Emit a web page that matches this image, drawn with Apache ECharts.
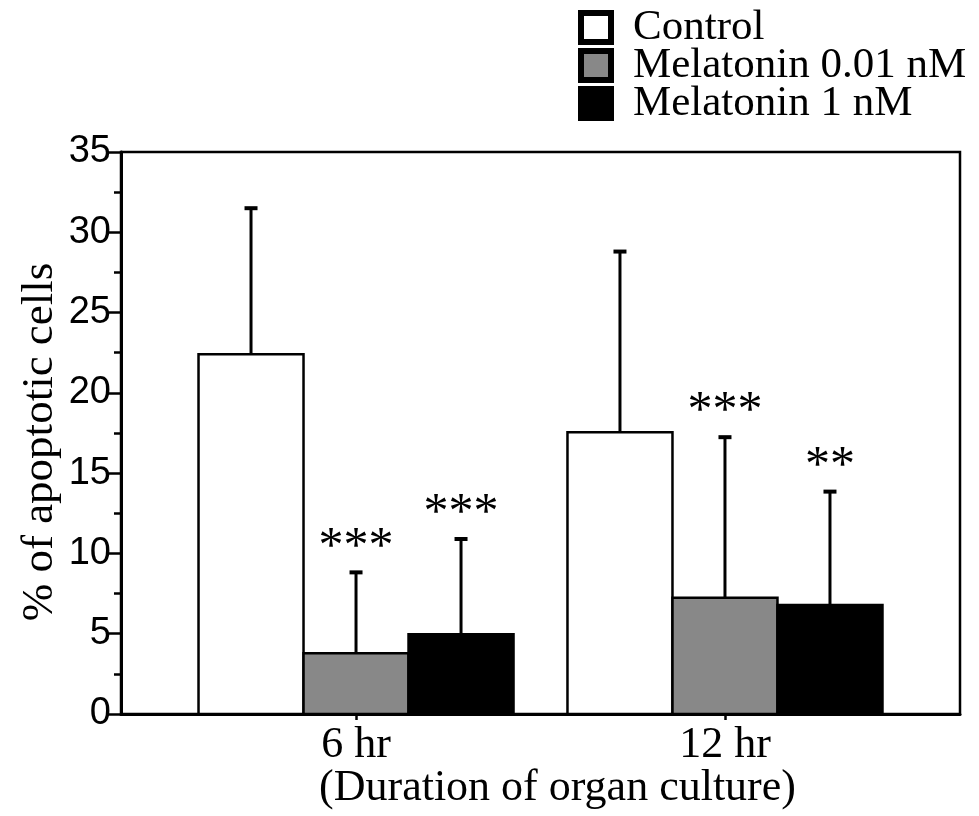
<!DOCTYPE html>
<html>
<head>
<meta charset="utf-8">
<script src="https://cdn.jsdelivr.net/npm/echarts@6/dist/echarts.min.js"></script>
<style>
  html, body { margin: 0; padding: 0; background: #fff; }
  #chart { width: 979px; height: 816px; }
</style>
</head>
<body>
<div id="chart"></div>
<script>
// data
const categories = ['6 hr', '12 hr'];
const seriesNames = ['Control', 'Melatonin 0.01 nM', 'Melatonin 1 nM'];
const controlMean = [22.4, 17.55];
const controlSD = [9.1, 11.25];
const mel001Mean = [3.78, 7.24];
const mel001SD = [5.04, 10.0];
const mel1Mean = [4.96, 6.79];
const mel1SD = [5.94, 7.06];
const marks = [['', ''], ['***', '***'], ['***', '**']];
const fills = ['#ffffff', '#888888', '#000000'];

const barW = 0.2846;               // bar width in x-axis units (one group step = 1)
const offsets = [-barW, 0, barW];  // group centred on middle bar

const chart = echarts.init(document.getElementById('chart'));

function renderItem(params, api) {
  const si = params.seriesIndex;
  const x = api.value(0) + offsets[si];
  const mean = api.value(1);
  const sd = api.value(2);
  const base = api.coord([x, 0]);
  const top = api.coord([x, mean]);
  const errTop = api.coord([x, mean + sd]);
  const w = api.size([barW, 0])[0];
  const mark = marks[si][params.dataIndex];
  return {
    type: 'group',
    children: [
      {
        type: 'rect',
        shape: { x: base[0] - w / 2, y: top[1], width: w, height: base[1] - top[1] },
        style: { fill: fills[si], stroke: '#000', lineWidth: 2.5 }
      },
      {
        type: 'line',
        shape: { x1: top[0], y1: top[1], x2: errTop[0], y2: errTop[1] },
        style: { stroke: '#000', lineWidth: 3 }
      },
      {
        type: 'line',
        shape: { x1: errTop[0] - 6.5, y1: errTop[1], x2: errTop[0] + 6.5, y2: errTop[1] },
        style: { stroke: '#000', lineWidth: 4 }
      },
      {
        type: 'text',
        x: errTop[0],
        y: errTop[1] - 25,
        style: {
          text: mark,
          fill: '#000',
          font: '50px "Liberation Serif", "Times New Roman", serif',
          align: 'center',
          verticalAlign: 'middle'
        }
      }
    ]
  };
}

function makeData(means, sds) {
  return means.map((m, i) => [i + 1, m, sds[i]]);
}

const allMeans = [controlMean, mel001Mean, mel1Mean];
const allSDs = [controlSD, mel001SD, mel1SD];

const option = {
  animation: false,
  backgroundColor: '#fff',
  grid: {
    left: 121, right: 19, top: 152, bottom: 102,
    outerBoundsMode: 'none',
    show: true, borderColor: '#000', borderWidth: 2.5
  },
  legend: {
    orient: 'vertical',
    left: 573,
    top: 1,
    itemWidth: 30,
    itemHeight: 29,
    itemGap: -5,
    icon: 'rect',
    textStyle: {
      fontFamily: '"Liberation Serif", "Times New Roman", serif',
      fontSize: 43,
      color: '#000',
      lineHeight: 36,
      padding: [0, 0, 0, 17]
    },
    data: seriesNames.map((n, i) => ({
      name: n,
      itemStyle: { color: fills[i], borderColor: '#000', borderWidth: 6 }
    }))
  },
  xAxis: {
    type: 'value',
    min: 0.363,
    max: 2.637,
    splitLine: { show: false },
    axisLine: { show: true, lineStyle: { color: '#000', width: 3 } },
    axisTick: { show: true, customValues: [1, 2], length: 6, lineStyle: { color: '#000', width: 2.5 } },
    axisLabel: {
      customValues: [1, 2],
      formatter: v => categories[Math.round(v) - 1] || '',
      color: '#000',
      fontFamily: '"Liberation Serif", "Times New Roman", serif',
      fontSize: 44,
      margin: 9
    },
    name: '(Duration of organ culture)',
    nameLocation: 'middle',
    nameGap: 52,
    nameMoveOverlap: false,
    nameTextStyle: {
      color: '#000',
      fontFamily: '"Liberation Serif", "Times New Roman", serif',
      fontSize: 44,
      padding: [0, 0, 0, 34]
    }
  },
  yAxis: {
    type: 'value',
    min: 0,
    max: 35,
    interval: 5,
    splitLine: { show: false },
    axisLine: { show: true, lineStyle: { color: '#000', width: 3 } },
    axisTick: { show: true, length: 13, lineStyle: { color: '#000', width: 2.5 } },
    minorTick: { show: true, splitNumber: 2, length: 7, lineStyle: { color: '#000', width: 2.5 } },
    axisLabel: {
      color: '#000',
      fontFamily: '"Liberation Sans", Arial, sans-serif',
      fontSize: 38,
      margin: 10
    },
    name: '% of apoptotic cells',
    nameLocation: 'middle',
    nameGap: 58,
    nameMoveOverlap: false,
    nameTextStyle: {
      color: '#000',
      fontFamily: '"Liberation Serif", "Times New Roman", serif',
      fontSize: 45,
      padding: [0, 18, 0, 0]
    }
  },
  series: seriesNames.map((n, i) => ({
    name: n,
    type: 'custom',
    renderItem: renderItem,
    itemStyle: { color: fills[i], borderColor: '#000' },
    encode: { x: 0, y: [1, 2] },
    data: makeData(allMeans[i], allSDs[i]),
    z: 2
  }))
};

chart.setOption(option);
</script>
</body>
</html>
